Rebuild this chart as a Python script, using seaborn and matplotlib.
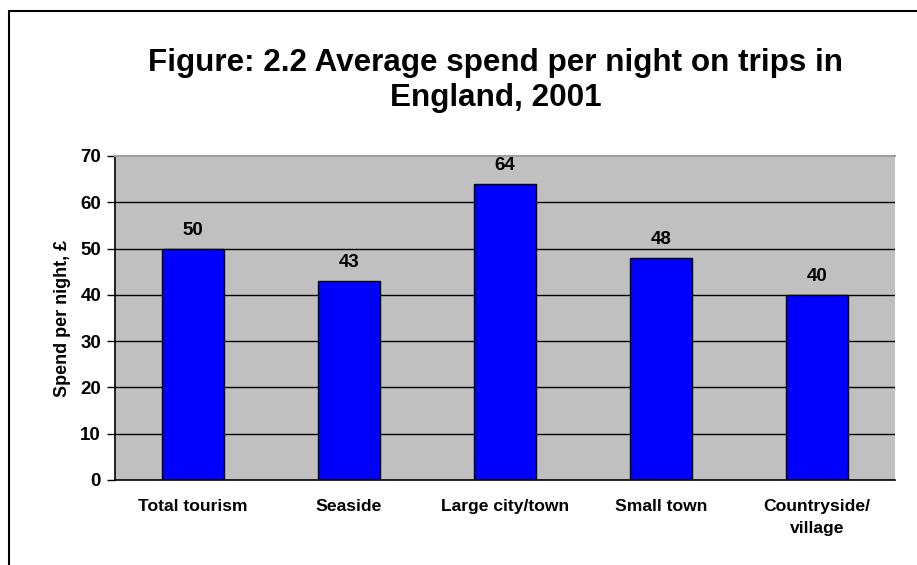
import matplotlib
matplotlib.use("Agg")
import matplotlib.pyplot as plt
from matplotlib.lines import Line2D
import seaborn as sns
import pandas as pd

categories = ["Total tourism", "Seaside", "Large city/town", "Small town", "Countryside/\nvillage"]
spend = [50, 43, 64, 48, 40]
yticks = [0, 10, 20, 30, 40, 50, 60, 70]

df = pd.DataFrame({"cat": categories, "spend": spend})

sns.set_style("white")
plt.rcParams["font.family"] = ["Liberation Sans", "DejaVu Sans"]
plt.rcParams["text.color"] = "black"
plt.rcParams["axes.labelcolor"] = "black"
plt.rcParams["xtick.color"] = "black"
plt.rcParams["ytick.color"] = "black"

fig = plt.figure(figsize=(9.17, 5.65), dpi=100)
ax = fig.add_axes([115 / 917, 1 - 480 / 565, 780 / 917, 324 / 565])
ax.set_facecolor("#C0C0C0")

# gridlines under bars
for v in yticks[1:-1]:
    ax.axhline(v, color="black", lw=1.0, zorder=0.5)

sns.barplot(data=df, x="cat", y="spend", color="#0000FF", saturation=1,
            edgecolor="black", linewidth=1.0, width=0.4, ax=ax, zorder=2)

ax.set_xlim(-0.5, len(categories) - 0.5)
ax.set_ylim(0, 70)
ax.set_yticks(yticks)
ax.set_yticklabels([str(v) for v in yticks], fontsize=13.5, fontweight="bold")
ax.set_xticks(range(len(categories)))
ax.set_xticklabels(categories, fontsize=12.6, fontweight="bold", linespacing=1.55)
ax.set_xticks([i - 0.5 for i in range(len(categories) + 1)], minor=True)
ax.tick_params(axis="x", which="major", length=0, pad=14)
ax.tick_params(axis="x", which="minor", length=6, width=1, color="black", direction="out")
ax.tick_params(axis="y", length=6, width=1, color="black", direction="out", pad=4, left=True)
ax.set_xlabel("")
ax.set_ylabel("Spend per night, \u00a3", fontsize=13, fontweight="bold", labelpad=7)

for s in ["left", "bottom"]:
    ax.spines[s].set_color("black")
    ax.spines[s].set_linewidth(1.2)
ax.spines["right"].set_visible(False)
ax.spines["top"].set_color("#A0A0A0")
ax.spines["top"].set_linewidth(1.5)

for i, v in enumerate(spend):
    ax.annotate(str(v), (i, v), xytext=(0, 7), textcoords="offset points",
                ha="center", va="bottom", fontsize=13.5, fontweight="bold")

title_lines = ["Figure: 2.2 Average spend per night on trips in", "England, 2001"]
fig.text(496 / 917, 1 - 71 / 565, title_lines[0], ha="center", va="baseline",
         fontsize=22.6, fontweight="bold")
fig.text(496 / 917, 1 - 106 / 565, title_lines[1], ha="center", va="baseline",
         fontsize=22.6, fontweight="bold")

# outer frame (left and top edges)
fig.add_artist(Line2D([9 / 917, 9 / 917], [0, 1 - 11 / 565], color="black", lw=1.5,
                      transform=fig.transFigure))
fig.add_artist(Line2D([9 / 917, 1], [1 - 11 / 565, 1 - 11 / 565], color="black", lw=1.5,
                      transform=fig.transFigure))

fig.savefig("out.png", dpi=100)
